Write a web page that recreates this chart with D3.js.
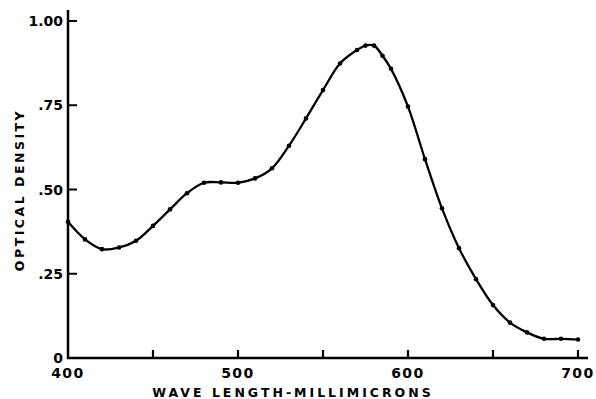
<!DOCTYPE html>
<html><head><meta charset="utf-8">
<script src="https://cdn.jsdelivr.net/npm/d3@7"></script>
<style>
body{margin:0;background:#fff;}
svg{display:block;}
text{font-family:"DejaVu Sans",sans-serif;font-weight:bold;fill:#000;}
</style></head><body>
<svg id="c" width="596" height="399"></svg>
<script>
const wavelengths = [400,410,420,430,440,450,460,470,480,490,500,510,520,530,540,550,560,570,575,580,585,590,600,610,620,630,640,650,660,670,680,690,700];
const density     = [0.404,0.352,0.323,0.328,0.348,0.392,0.441,0.489,0.520,0.521,0.520,0.533,0.563,0.630,0.711,0.795,0.874,0.914,0.927,0.927,0.897,0.858,0.746,0.590,0.444,0.326,0.234,0.157,0.105,0.076,0.057,0.057,0.055];
const xTicks = [400,450,500,550,600,650,700];
const xTickLabels = {400:"400",500:"500",600:"600",700:"700"};
const yTicks = [0,0.25,0.5,0.75,1.0];
const yTickLabels = ["0",".25",".50",".75","1.00"];
const xTitle = "WAVE LENGTH-MILLIMICRONS";
const yTitle = "OPTICAL DENSITY";

const svg = d3.select("#c");
const x = d3.scaleLinear().domain([400,700]).range([68,578]);
const y = d3.scaleLinear().domain([0,1]).range([358,21]);

const x0 = x(400), y0 = y(0);
const ax = d3.path();
ax.moveTo(x0, y(1)-11); ax.lineTo(x0, y0); ax.lineTo(x(700)+10, y0);
svg.append("path").attr("d", ax.toString()).attr("fill","none")
  .attr("stroke","#000").attr("stroke-width",2.5).attr("stroke-linejoin","miter");

const tk = d3.path();
xTicks.forEach(t => { if (t !== 400) { tk.moveTo(x(t), y0); tk.lineTo(x(t), y0-8); } });
yTicks.forEach(t => { if (t !== 0) { tk.moveTo(x0, y(t)); tk.lineTo(x0+9, y(t)); } });
svg.append("path").attr("d", tk.toString()).attr("fill","none")
  .attr("stroke","#000").attr("stroke-width",2.2);

svg.selectAll("text.xl").data(xTicks.filter(t => xTickLabels[t])).enter().append("text")
  .attr("class","xl").attr("x", d => x(d)).attr("y", y0+20).attr("text-anchor","middle")
  .style("font-size","14px").style("letter-spacing","1.5px").text(d => xTickLabels[d]);
svg.selectAll("text.yl").data(yTicks).enter().append("text")
  .attr("class","yl").attr("x", x0-5).attr("y", d => y(d)+5).attr("text-anchor","end")
  .style("font-size","14px").text((d,i) => yTickLabels[i]);

svg.append("text").attr("x",293).attr("y",397).attr("text-anchor","middle")
  .style("font-size","12.5px").style("letter-spacing","3px").text(xTitle);
svg.append("text").attr("transform","translate(24,190) rotate(-90)").attr("text-anchor","middle")
  .style("font-size","12.5px").style("letter-spacing","2.5px").text(yTitle);

const data = wavelengths.map((w,i)=>({w,v:density[i]}));
const line = d3.line().x(d=>x(d.w)).y(d=>y(d.v)).curve(d3.curveCatmullRom.alpha(0.5));
svg.append("path").datum(data).attr("d",line).attr("fill","none")
  .attr("stroke","#000").attr("stroke-width",2.3);
svg.selectAll("circle.p").data(data).enter().append("circle").attr("class","p")
  .attr("cx",d=>x(d.w)).attr("cy",d=>y(d.v)).attr("r",2.3).attr("fill","#000");
</script>
</body></html>
